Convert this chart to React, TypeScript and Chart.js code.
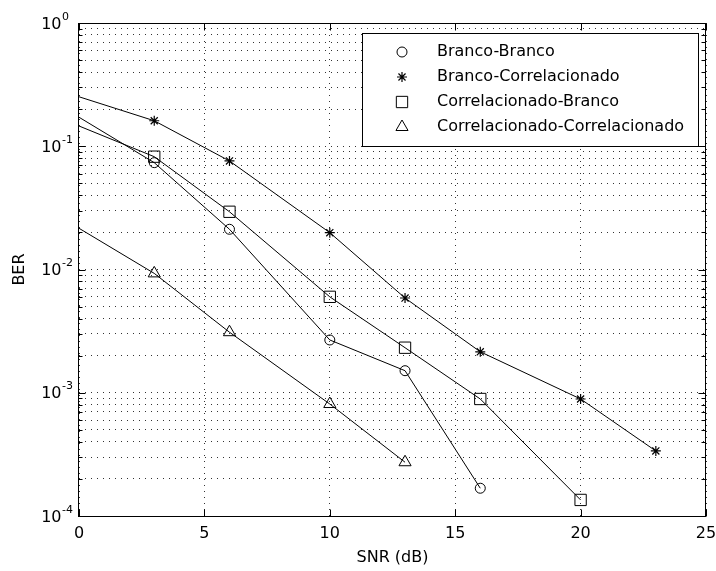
import React, { useEffect, useRef } from 'react';
import { Chart, registerables } from 'chart.js';
import { drawPoint } from 'chart.js/helpers';

Chart.register(...registerables);

const FONT = '"DejaVu Sans", sans-serif';

// SNR (dB) values per series
const SNR_BB = [0, 3, 6, 10, 13, 16];
const SNR_BC = [0, 3, 6, 10, 13, 16, 20, 23];
const SNR_CB = [0, 3, 6, 10, 13, 16, 20];
const SNR_CC = [0, 3, 6, 10, 13];

// BER values per series
const BER_BB = [0.172, 0.0736, 0.0212, 0.00268, 0.00151, 0.000168];
const BER_BC = [0.252, 0.161, 0.076, 0.0199, 0.00587, 0.00215, 0.00089, 0.000337];
const BER_CB = [0.146, 0.0823, 0.0294, 0.006, 0.00232, 0.00089, 0.000135];
const BER_CC = [0.0216, 0.0093, 0.0031, 0.00081, 0.000273];

const LABELS = [
  'Branco-Branco',
  'Branco-Correlacionado',
  'Correlacionado-Branco',
  'Correlacionado-Correlacionado',
];
const STYLES = ['circle', 'star', 'rect', 'triangle'];
const RADII = [5, 5, 8, 7];

const X_MIN = 0;
const X_MAX = 25;
const X_STEP = 5;
const Y_DECADES = [-4, -3, -2, -1, 0];

function pts(xs: number[], ys: number[]) {
  return xs.map((x, i) => ({ x, y: ys[i] }));
}

function radiusList(xs: number[], r: number) {
  // the first sample sits on the axis edge with no visible marker
  return xs.map((x, i) => (i === 0 ? 0 : r));
}

const matlabPlugin = {
  id: 'matlabDecor',
  afterDraw(chart: any) {
    const ctx = chart.ctx;
    const { left, right, top, bottom } = chart.chartArea;
    const L = Math.floor(left) - 0.5;
    const R = Math.round(right) - 0.5;
    const T = Math.floor(top) + 0.5;
    const B = Math.round(bottom) + 0.5;
    ctx.save();
    ctx.strokeStyle = '#000';
    ctx.lineWidth = 1;
    ctx.setLineDash([]);
    // inner tick marks, y axis
    const ys = chart.scales.y;
    ctx.beginPath();
    ys.ticks.forEach((t: any) => {
      const py = Math.round(ys.getPixelForValue(t.value)) + 0.5;
      const lg = Math.log10(t.value);
      const major = Math.abs(lg - Math.round(lg)) < 1e-9;
      const len = major ? 7 : 4;
      ctx.moveTo(L, py);
      ctx.lineTo(L + len, py);
      ctx.moveTo(R, py);
      ctx.lineTo(R - len, py);
    });
    // x axis tick marks
    const xs = chart.scales.x;
    xs.ticks.forEach((t: any) => {
      const px = Math.round(xs.getPixelForValue(t.value)) + 0.5;
      ctx.moveTo(px, B);
      ctx.lineTo(px, B - 7);
      ctx.moveTo(px, T);
      ctx.lineTo(px, T + 7);
    });
    ctx.stroke();
    // frame
    ctx.strokeRect(L, T, R - L, B - T);

    // y tick labels (10 with superscript exponent)
    ctx.fillStyle = '#000';
    ys.ticks.forEach((t: any) => {
      const lg = Math.log10(t.value);
      if (Math.abs(lg - Math.round(lg)) > 1e-9) return;
      const py = ys.getPixelForValue(t.value);
      ctx.font = `16px ${FONT}`;
      ctx.textAlign = 'right';
      ctx.textBaseline = 'alphabetic';
      ctx.fillText('10', 61.5, py + 5.5);
      ctx.font = `11px ${FONT}`;
      ctx.textAlign = 'left';
      ctx.fillText(String(Math.round(lg)), 62, py - 3.5);
    });

    // legend
    const lx = 362.5, ly = 33.5, lw = 336, lh = 113;
    ctx.fillStyle = '#fff';
    ctx.fillRect(lx, ly, lw, lh);
    ctx.strokeStyle = '#000';
    ctx.strokeRect(lx, ly, lw, lh);
    chart.data.datasets.forEach((ds: any, i: number) => {
      const cy = 52 + i * 25;
      ctx.strokeStyle = '#000';
      ctx.lineWidth = ds.pointBorderWidth || 1;
      ctx.fillStyle = 'rgba(0,0,0,0)';
      drawPoint(ctx, { pointStyle: ds.pointStyle, radius: RADII[i], borderWidth: ds.pointBorderWidth || 1, rotation: 0 } as any, 402, cy);
      ctx.fillStyle = '#000';
      ctx.font = `16px ${FONT}`;
      ctx.textAlign = 'left';
      ctx.textBaseline = 'middle';
      ctx.fillText(ds.label, 437, cy);
    });
    ctx.restore();
  },
};

export default function App() {
  const ref = useRef<HTMLCanvasElement | null>(null);
  useEffect(() => {
    if (!ref.current) return;
    const series = [
      [SNR_BB, BER_BB],
      [SNR_BC, BER_BC],
      [SNR_CB, BER_CB],
      [SNR_CC, BER_CC],
    ];
    const datasets = series.map(([xs, ys], i) => ({
      label: LABELS[i],
      data: pts(xs, ys),
      borderColor: '#000',
      borderWidth: 1,
      backgroundColor: 'rgba(0,0,0,0)',
      pointStyle: STYLES[i],
      pointRadius: radiusList(xs, RADII[i]),
      pointBorderColor: '#000',
      pointBackgroundColor: 'rgba(0,0,0,0)',
      pointBorderWidth: i === 1 ? 1.2 : 1,
      tension: 0,
      fill: false,
    }));
    const chart = new Chart(ref.current, {
      type: 'line',
      data: { datasets },
      plugins: [matlabPlugin],
      options: {
        responsive: false,
        animation: false,
        devicePixelRatio: 1,
        layout: { padding: { left: 0, top: 23, right: 10, bottom: 0 } },
        plugins: { legend: { display: false }, tooltip: { enabled: false } },
        scales: {
          x: {
            type: 'linear',
            min: X_MIN,
            max: X_MAX,
            ticks: {
              stepSize: X_STEP,
              color: '#000',
              font: { family: FONT, size: 16 },
              padding: 8,
              maxRotation: 0,
            },
            grid: { color: '#333', lineWidth: 1, drawTicks: false },
            border: { display: false, dash: [1, 5] },
            title: {
              display: true,
              text: 'SNR (dB)',
              color: '#000',
              font: { family: FONT, size: 16 },
              padding: 4,
            },
            afterFit: (s: any) => {
              s.height = 55;
              s.paddingLeft = 0;
              s.paddingRight = 0;
            },
          },
          y: {
            type: 'logarithmic',
            min: Math.pow(10, Y_DECADES[0]),
            max: Math.pow(10, Y_DECADES[Y_DECADES.length - 1]),
            ticks: { display: false, autoSkip: false },
            grid: { color: '#333', lineWidth: 1, drawTicks: false },
            border: { display: false, dash: [1, 5] },
            title: {
              display: true,
              text: 'BER',
              color: '#000',
              font: { family: FONT, size: 16 },
              padding: 10,
            },
            afterBuildTicks: (s: any) => {
              const t: any[] = [];
              Y_DECADES.forEach((d, k) => {
                const base = Math.pow(10, d);
                if (k === Y_DECADES.length - 1) {
                  t.push({ value: base, major: true });
                } else {
                  for (let m = 1; m <= 9; m++) t.push({ value: m * base, major: m === 1 });
                }
              });
              s.ticks = t;
            },
            afterFit: (s: any) => {
              s.width = 79;
              s.paddingTop = 0;
              s.paddingBottom = 0;
            },
          },
        },
      } as any,
    });
    return () => chart.destroy();
  }, []);
  return (
    <div style={{ position: 'fixed', left: 0, top: 0, width: 716, height: 571, background: '#fff' }}>
      <canvas ref={ref} width={716} height={571} />
    </div>
  );
}
